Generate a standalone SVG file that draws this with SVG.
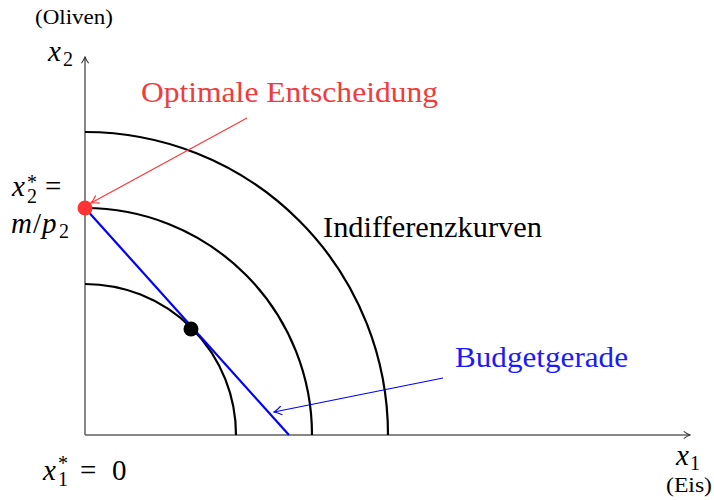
<svg xmlns="http://www.w3.org/2000/svg" width="714" height="500" viewBox="0 0 714 500">
<defs>
<style>
.m{font-style:italic}
.big{font-size:29px}
.sub{font-size:20px}
.sm{font-size:20px}
.curve{fill:none;stroke:#000;stroke-width:2.2}
.axis{fill:none;stroke:#606060;stroke-width:1.5}
</style>
<marker id="ag" viewBox="0 0 10 10" refX="9" refY="5" markerWidth="9" markerHeight="9" markerUnits="userSpaceOnUse" orient="auto">
<path d="M2,1 Q6,4 9,5 Q6,6 2,9" fill="none" stroke="#333" stroke-width="1.2"/>
</marker>
<marker id="ar" viewBox="0 0 10 10" refX="9" refY="5" markerWidth="11" markerHeight="11" markerUnits="userSpaceOnUse" orient="auto">
<path d="M2,1 Q6,4 9,5 Q6,6 2,9" fill="none" stroke="#ff3333" stroke-width="1.1"/>
</marker>
<marker id="ab" viewBox="0 0 10 10" refX="9" refY="5" markerWidth="11" markerHeight="11" markerUnits="userSpaceOnUse" orient="auto">
<path d="M2,1 Q6,4 9,5 Q6,6 2,9" fill="none" stroke="#0000ff" stroke-width="1.1"/>
</marker>
</defs>
<rect width="714" height="500" fill="#fff"/>

<g id="axes">
<line class="axis" x1="85" y1="435" x2="85" y2="57" marker-end="url(#ag)"/>
<line class="axis" x1="85" y1="435" x2="690" y2="435" marker-end="url(#ag)"/>
</g>

<g id="curves">
<path class="curve" d="M85,284 A151,151 0 0 1 236,435"/>
<path class="curve" d="M85,208 A227,227 0 0 1 312,435"/>
<path class="curve" d="M85,132 A303,303 0 0 1 388,435"/>
</g>

<g id="budget">
<line x1="85" y1="208" x2="289" y2="435" stroke="#0000ff" stroke-width="2.2"/>
</g>

<g id="connectors">
<line x1="247" y1="118" x2="91" y2="203" stroke="#ff3333" stroke-width="1.1" marker-end="url(#ar)"/>
<line x1="443" y1="378" x2="274" y2="412" stroke="#0000ff" stroke-width="1.1" marker-end="url(#ab)"/>
</g>

<g id="opt-point"><circle cx="85" cy="208" r="7.5" fill="#ff3333"/></g>
<g id="tangent-point"><circle cx="191" cy="329" r="7.5" fill="#000"/></g>

<g id="labels" font-family="Liberation Serif, Times New Roman, serif" fill="#000">
<g id="label-oliven"><text class="sm" x="35" y="24" textLength="78" lengthAdjust="spacingAndGlyphs">(Oliven)</text></g>
<g id="label-x2">
<text class="big"><tspan class="m" x="48" y="61">x</tspan><tspan class="sub" x="63" y="66">2</tspan></text>
</g>
<g id="label-opt"><text class="big" x="141" y="102" fill="#f03c3c" textLength="297" lengthAdjust="spacingAndGlyphs">Optimale Entscheidung</text></g>
<g id="label-x2star">
<text class="big"><tspan class="m" x="12" y="196">x</tspan><tspan class="sub" x="27" y="189">*</tspan><tspan class="sub" x="27" y="203">2</tspan><tspan x="45" y="196">=</tspan></text>
<text class="big"><tspan class="m" x="11" y="233">m</tspan><tspan x="33" y="233">/</tspan><tspan class="m" x="42" y="233">p</tspan><tspan class="sub" x="59" y="238">2</tspan></text>
</g>
<g id="label-indiff"><text class="big" x="323" y="237" textLength="219" lengthAdjust="spacingAndGlyphs">Indifferenzkurven</text></g>
<g id="label-budget"><text class="big" x="455" y="367" fill="#1a1aff" textLength="173" lengthAdjust="spacingAndGlyphs">Budgetgerade</text></g>
<g id="label-x1star">
<text class="big"><tspan class="m" x="43" y="480">x</tspan><tspan class="sub" x="58" y="470">*</tspan><tspan class="sub" x="58" y="486">1</tspan><tspan x="80" y="480">=</tspan><tspan x="112" y="480">0</tspan></text>
</g>
<g id="label-x1">
<text class="big"><tspan class="m" x="676" y="465">x</tspan><tspan class="sub" x="690" y="470">1</tspan></text>
</g>
<g id="label-eis"><text class="sm" x="666" y="492" textLength="46" lengthAdjust="spacingAndGlyphs">(Eis)</text></g>
</g>
</svg>
